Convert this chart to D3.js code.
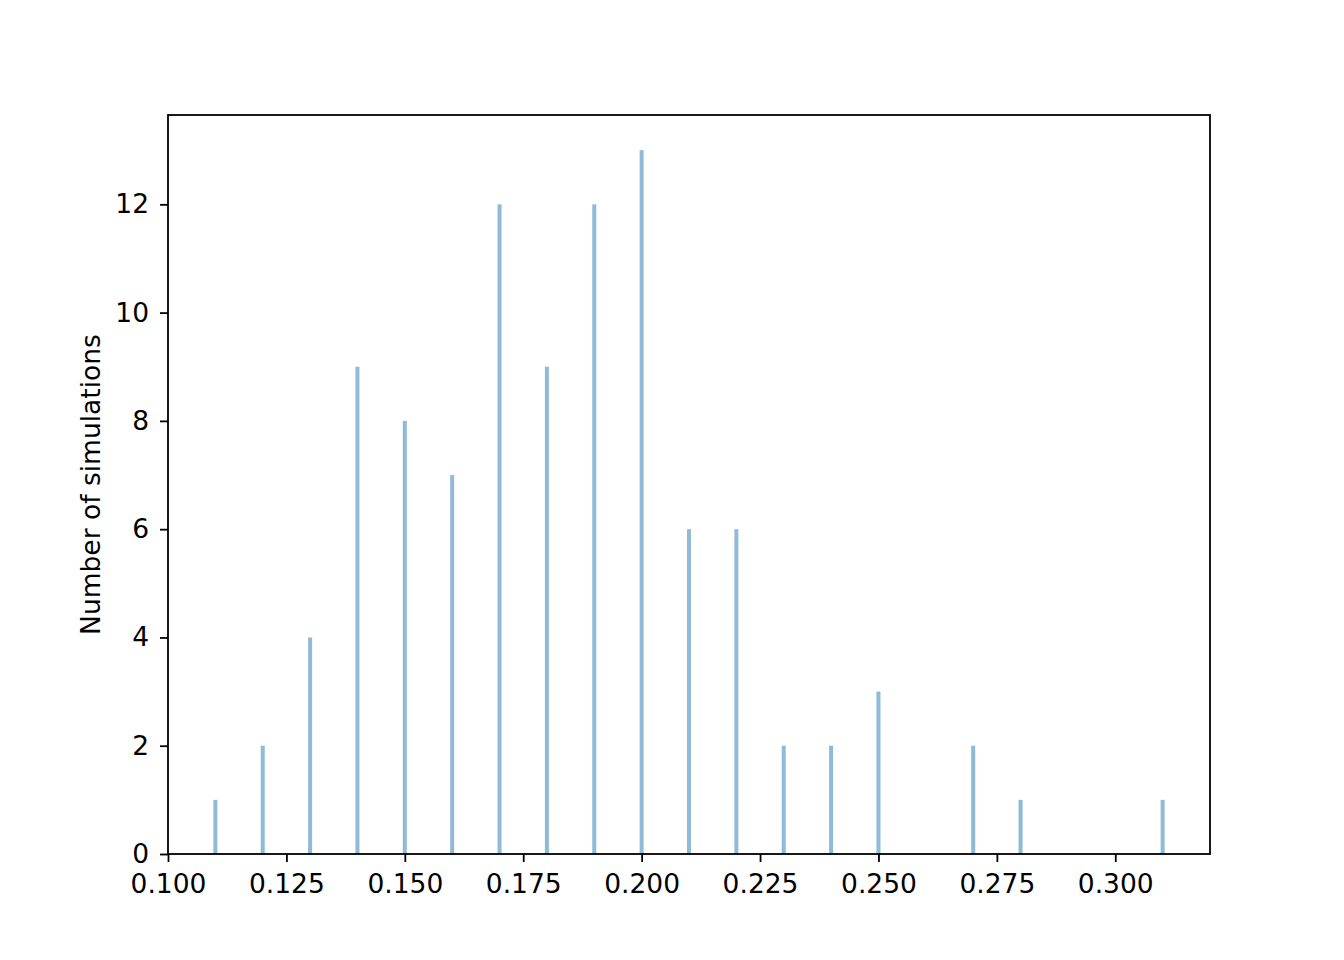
<!DOCTYPE html>
<html>
<head>
<meta charset="utf-8">
<script src="https://cdn.jsdelivr.net/npm/d3@7"></script>
<style>
  body { margin: 0; background: #fff; }
  svg text { font-family: "DejaVu Sans", sans-serif; }
</style>
</head>
<body>
<script>
// histogram values
var binValues = [0.11, 0.12, 0.13, 0.14, 0.15, 0.16, 0.17, 0.18, 0.19, 0.20, 0.21, 0.22, 0.23, 0.24, 0.25, 0.27, 0.28, 0.31];
var binCounts = [1, 2, 4, 9, 8, 7, 12, 9, 12, 13, 6, 6, 2, 2, 3, 2, 1, 1];
var xTicks = [0.100, 0.125, 0.150, 0.175, 0.200, 0.225, 0.250, 0.275, 0.300];
var yTicks = [0, 2, 4, 6, 8, 10, 12];
var yLabel = "Number of simulations";

var width = 1344, height = 960;
var margin = {left: 168, right: 134, top: 115, bottom: 106};
var fontSize = "26.5px";

var svg = d3.select("body").append("svg")
  .attr("width", width)
  .attr("height", height);

var x = d3.scaleLinear()
  .domain([0.1, 0.32])
  .range([margin.left, width - margin.right]);

var y = d3.scaleLinear()
  .domain([0, 13.65])
  .range([height - margin.bottom, margin.top]);

var barW = 0.00085; // bar width in data units

//bars
svg.append("g").selectAll("rect")
  .data(binValues)
  .enter().append("rect")
  .attr("x", function(d) { return x(d - barW / 2); })
  .attr("width", function(d) { return x(d + barW / 2) - x(d - barW / 2); })
  .attr("y", function(d, i) { return y(binCounts[i]); })
  .attr("height", function(d, i) { return y(0) - y(binCounts[i]); })
  .attr("fill", "#1f77b4")
  .attr("fill-opacity", 0.5);

//axes
var xAxis = svg.append("g")
  .attr("transform", "translate(0," + (height - margin.bottom) + ")")
  .call(d3.axisBottom(x).tickValues(xTicks).tickFormat(d3.format(".3f")).tickSizeInner(8).tickSizeOuter(0).tickPadding(12));

var yAxis = svg.append("g")
  .attr("transform", "translate(" + margin.left + ",0)")
  .call(d3.axisLeft(y).tickValues(yTicks).tickSizeInner(8).tickSizeOuter(0).tickPadding(11));

[xAxis, yAxis].forEach(function(a) {
  a.select(".domain").remove();
  a.selectAll(".tick line").attr("stroke", "#000").attr("stroke-width", 1.8);
  a.selectAll(".tick text").attr("fill", "#000").style("font-size", fontSize);
});

//frame
svg.append("rect")
  .attr("x", margin.left)
  .attr("y", margin.top)
  .attr("width", width - margin.left - margin.right)
  .attr("height", height - margin.top - margin.bottom)
  .attr("fill", "none")
  .attr("stroke", "#000")
  .attr("stroke-width", 1.8);

svg.append("text")
  .attr("transform", "translate(100," + ((margin.top + height - margin.bottom) / 2) + ") rotate(-90)")
  .attr("text-anchor", "middle")
  .style("font-size", fontSize)
  .text(yLabel);
</script>
</body>
</html>
